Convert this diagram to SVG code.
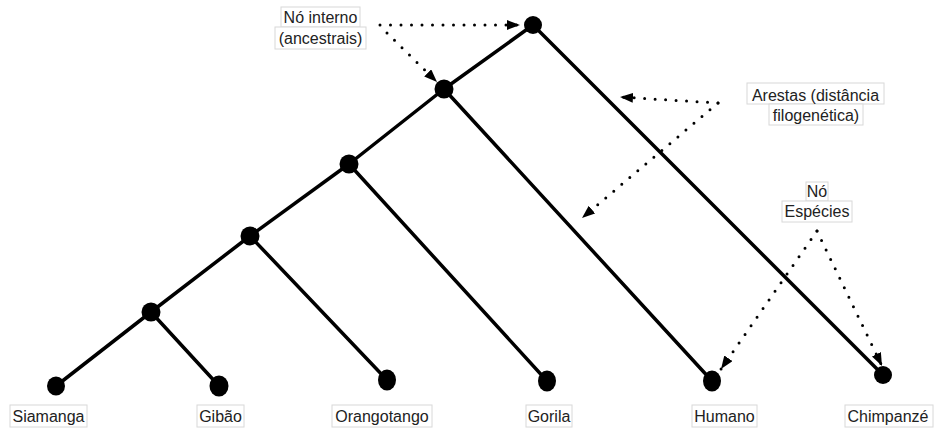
<svg xmlns="http://www.w3.org/2000/svg" width="934" height="430" viewBox="0 0 934 430">
  <style>
    .edge { stroke: #000; stroke-width: 3.5; fill: none; stroke-linecap: round; }
    .node { fill: #000; }
    .hint { stroke: #000; stroke-width: 3; fill: none; stroke-linecap: round; stroke-dasharray: 0 10.5; }
    .box { fill: #fff; stroke: #d8d8d8; stroke-width: 1; }
    .lbl { font-family: "Liberation Sans", Arial, sans-serif; font-size: 16px; fill: #222; text-anchor: middle; }
  </style>
  <defs>
    <marker id="tip" viewBox="0 0 13 10" refX="13" refY="5" markerWidth="13" markerHeight="10" markerUnits="userSpaceOnUse" orient="auto">
      <path d="M0,0 L13,5 L0,10 Z" fill="#000"/>
    </marker>
  </defs>

  <rect width="934" height="430" fill="#fff"/>

  <!-- tree branches -->
  <g id="edges">
    <line class="edge" x1="533" y1="25" x2="444" y2="89"/>
    <line class="edge" x1="444" y1="89" x2="349" y2="164"/>
    <line class="edge" x1="349" y1="164" x2="250" y2="236"/>
    <line class="edge" x1="250" y1="236" x2="151" y2="312"/>
    <line class="edge" x1="151" y1="312" x2="56" y2="386"/>
    <line class="edge" x1="151" y1="312" x2="219" y2="386"/>
    <line class="edge" x1="250" y1="236" x2="387" y2="380"/>
    <line class="edge" x1="349" y1="164" x2="547" y2="381"/>
    <line class="edge" x1="444" y1="89" x2="712" y2="381"/>
    <line class="edge" x1="533" y1="25" x2="883" y2="375"/>
  </g>

  <!-- dotted pointers from the annotations -->
  <g id="pointers">
    <line class="hint" x1="380" y1="25" x2="520" y2="25" marker-end="url(#tip)"/>
    <line class="hint" x1="387" y1="33" x2="437" y2="82" marker-end="url(#tip)"/>
    <line class="hint" x1="718" y1="103" x2="620" y2="97" marker-end="url(#tip)"/>
    <line class="hint" x1="718" y1="103" x2="582" y2="218" marker-end="url(#tip)"/>
    <line class="hint" x1="817" y1="231" x2="721" y2="369" marker-end="url(#tip)"/>
    <line class="hint" x1="817" y1="231" x2="882" y2="366" marker-end="url(#tip)"/>
  </g>

  <!-- internal nodes -->
  <g id="n-root"><circle class="node" cx="533" cy="25" r="9"/></g>
  <g id="n-2"><circle class="node" cx="444" cy="89" r="9.5"/></g>
  <g id="n-3"><circle class="node" cx="349" cy="164" r="9.5"/></g>
  <g id="n-4"><circle class="node" cx="250" cy="236" r="9.5"/></g>
  <g id="n-5"><circle class="node" cx="151" cy="312" r="9.5"/></g>

  <!-- leaves -->
  <g id="siamanga">
    <ellipse class="node" cx="56" cy="386" rx="9" ry="9.5"/>
    <rect class="box" x="10" y="405" width="77" height="22"/>
    <text class="lbl" x="48.5" y="422">Siamanga</text>
  </g>
  <g id="gibao">
    <ellipse class="node" cx="219" cy="386" rx="9.5" ry="10.5"/>
    <rect class="box" x="197" y="405" width="47" height="22"/>
    <text class="lbl" x="220.5" y="422">Gibão</text>
  </g>
  <g id="orangotango">
    <ellipse class="node" cx="387" cy="380" rx="9" ry="10.5"/>
    <rect class="box" x="332" y="405" width="100" height="22"/>
    <text class="lbl" x="382" y="422">Orangotango</text>
  </g>
  <g id="gorila">
    <ellipse class="node" cx="547" cy="381" rx="9" ry="10.5"/>
    <rect class="box" x="526" y="405" width="46" height="22"/>
    <text class="lbl" x="549" y="422">Gorila</text>
  </g>
  <g id="humano">
    <ellipse class="node" cx="712" cy="381" rx="9" ry="10.5"/>
    <rect class="box" x="692" y="405" width="65" height="22"/>
    <text class="lbl" x="724.5" y="422">Humano</text>
  </g>
  <g id="chimpanze">
    <ellipse class="node" cx="883" cy="375" rx="9" ry="9"/>
    <rect class="box" x="845" y="405" width="88" height="22"/>
    <text class="lbl" x="888" y="422">Chimpanzé</text>
  </g>

  <!-- annotations -->
  <g id="note-interno">
    <rect class="box" x="281" y="7" width="79" height="20"/>
    <rect class="box" x="275" y="27" width="91" height="22"/>
    <text class="lbl" x="320.5" y="23">Nó interno</text>
    <text class="lbl" x="320.5" y="44">(ancestrais)</text>
  </g>
  <g id="note-arestas">
    <rect class="box" x="747" y="83" width="137" height="21"/>
    <rect class="box" x="769" y="104" width="94" height="21"/>
    <text class="lbl" x="815.5" y="101">Arestas (distância</text>
    <text class="lbl" x="816" y="121">filogenética)</text>
  </g>
  <g id="note-especies">
    <rect class="box" x="806" y="182" width="22" height="19"/>
    <rect class="box" x="782" y="201" width="70" height="21"/>
    <text class="lbl" x="817" y="197">Nó</text>
    <text class="lbl" x="817" y="217">Espécies</text>
  </g>
</svg>
